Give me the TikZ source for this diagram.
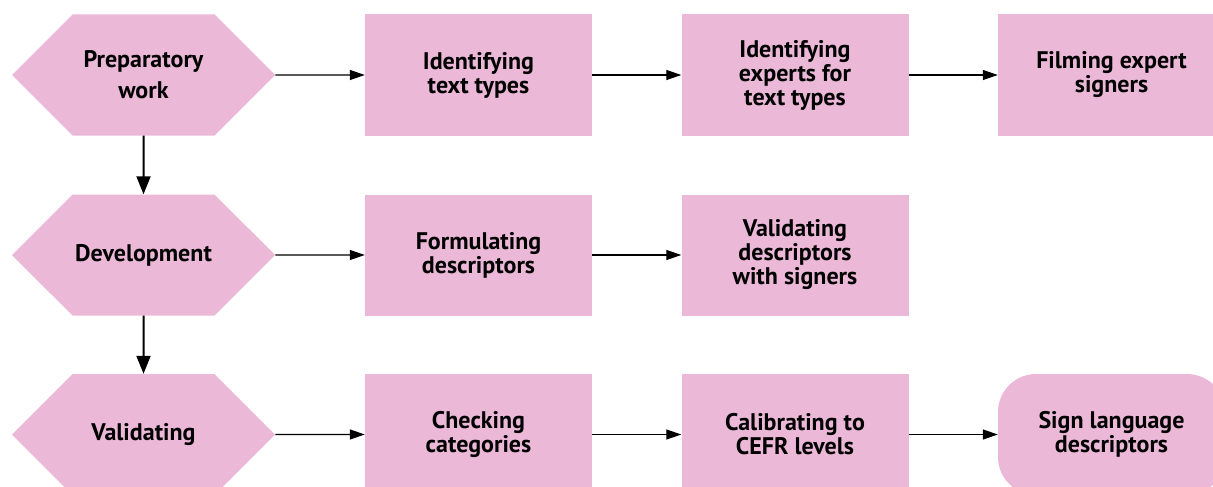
\documentclass[tikz,border=0pt]{standalone}
\usepackage{fontspec}
\setmainfont{PT Sans}
\usetikzlibrary{shapes.symbols,arrows.meta}
\definecolor{boxpink}{RGB}{235,184,216}
\begin{document}
\begin{tikzpicture}[x=1pt,y=-1pt,
    phase/.style={signal, signal to=east and west, signal pointer angle=90,
      fill=boxpink, minimum width=263pt, minimum height=121pt, inner sep=0pt,
      font=\bfseries\fontsize{24}{31}\selectfont, align=center},
    task/.style={rectangle, fill=boxpink, minimum width=227pt, minimum height=121pt,
      inner sep=0pt, font=\bfseries\fontsize{24}{24}\selectfont, align=center},
    result/.style={task, rounded corners=38pt},
    flow/.style={-{Triangle[length=15pt,width=10pt]}, line width=1.2pt},
    down/.style={-{Triangle[length=18pt,width=14pt]}, line width=2pt}]
  \useasboundingbox (0,0) rectangle (1213,487);
  \clip (0,0) rectangle (1213,487);
  \draw
    (143.5,75) node[phase] (prep){Preparatory\\work}
    (143.5,255) node[phase] (dev){Development}
    (143.5,434.5) node[phase] (val){Validating}
    (478.5,75) node[task] (types){Identifying\\text types}
    (795,75) node[task] (experts){Identifying\\experts for\\text types}
    (1111.5,75) node[task] (film){Filming expert\\signers}
    (478.5,255) node[task] (form){Formulating\\descriptors}
    (795,255) node[task] (signers){Validating\\descriptors\\with signers}
    (478.5,434.5) node[task] (cats){Checking\\categories}
    (795,434.5) node[task] (cefr){Calibrating to\\CEFR levels}
    (1111.5,434.5) node[result] (sign){Sign language\\descriptors};
  \begin{scope}[flow]
    \draw (prep) to (types);
    \draw (types) to (experts);
    \draw (experts) to (film);
    \draw (dev) to (form);
    \draw (form) to (signers);
    \draw (val) to (cats);
    \draw (cats) to (cefr);
    \draw (cefr) to (sign);
  \end{scope}
  \begin{scope}[down]
    \draw (prep) to (dev);
    \draw (dev) to (val);
  \end{scope}
\end{tikzpicture}
\end{document}
